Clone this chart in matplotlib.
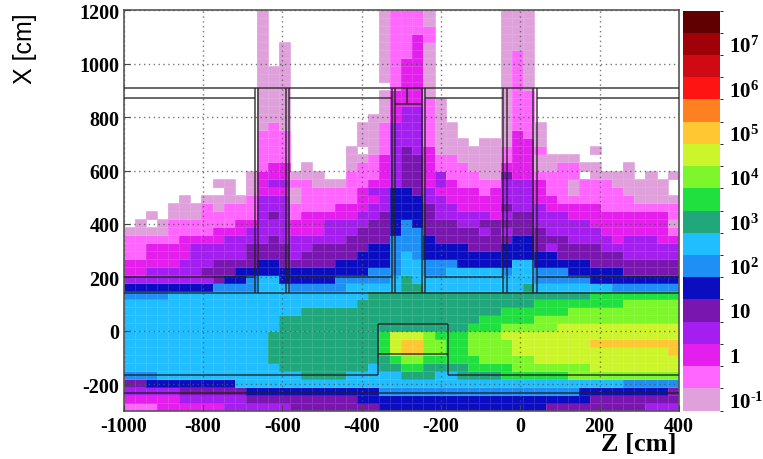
import numpy as np
import matplotlib
matplotlib.use("Agg")
import matplotlib.pyplot as plt
from matplotlib.colors import ListedColormap, BoundaryNorm

plt.rcParams['font.family'] = ['Liberation Serif', 'DejaVu Serif']
plt.rcParams['mathtext.fontset'] = 'custom'
plt.rcParams['mathtext.bf'] = 'Liberation Serif:bold'
plt.rcParams['mathtext.rm'] = 'Liberation Serif:bold'
plt.rcParams['axes.unicode_minus'] = False

# colour level of each cell, top row first: . = empty, a = lowest level ... r = highest
rows = [
    ".......... ..a....... ...abbba.. ....aaa... ..........",
    ".......... ..a....... ...abbba.. ....aaa... ..........",
    ".......... ..a....... ...abbbb.. ....aaa... ..........",
    ".......... ..a....... ...abbcb.. ....aaa... ..........",
    ".......... ..a.a..... ...abbca.. ....aaa... ..........",
    ".......... ..a.a..... ...abbca.. ....aba... ..........",
    ".......... ..a.a..... ...abcca.. ....aba... ..........",
    ".......... ..aaa..... ...abcca.. ....aba... ..........",
    ".......... ..aaa..... ...abcca.. ....aba... ..........",
    ".......... ..aaa..... ....bcca.. ....aba... ..........",
    ".......... ..aaa..... ...accca.. ....abb... ..........",
    ".......... ..aaa..... ...acccba. ....abb... ..........",
    ".......... ..aaa..... ...acddba. ....abb... ..........",
    ".......... ..aaa..... ..aacddba. ....abb... ..........",
    ".......... ..aba..... .aabdddbaa ....abba.. ..........",
    ".......... ..bbb..... .aabdddbaa ....acba.. ..........",
    ".......... ..bbb..... .aabdddbaa a.aaacca.. ..........",
    ".......... ..bbb..... a.abdedcaa aaaabccb.. ..a.......",
    ".......... ..bbb..... aabcdeecbb aaaabccaaa a.........",
    ".......... ..bcc.a... abbcdeecbb baaacccaab baa..a....",
    ".......... .acccaaa.. bbbcdeecdb bbaaeccbbb b.aaaa.a.a",
    "........aa .acddbbaaa bbccdeecdc bbbbdddcbb abbbaaaaa.",
    ".........a .acccabbbb bcddffedcc ccbcdddcbb abbbbaaaa.",
    ".....a.aaa abdddabbbb bccdfffddc ccccdddccb bbbbbbaaaa",
    "....aaabab bbdddbbbbc ccddfffedd ccccedddcc cccbbbbbbb",
    "..a.aaabbb bbdedbcccc cddefffedd dddcdeeddd cccccccccb",
    ".a.abbbbbb ccdddcccdd ddeefgfeee ddeeeeeddd ddccccccca",
    "aaaabbbbcc cddddcccdd deeefggeee eededeeedd dddccccccb",
    "bbbbbccccd dddedddddd eeeegggfee eeeeeffeee ddddcdddcc",
    "bbccccdddd deeeeddeee eeffgggfff feeefffede eeeddddddd",
    "bbccccdddd deeeedeeee efffghgfff fffffffffe eeeeeddddd",
    "cccccdddee eeffeeeeef ffffghhggg fffffhhfff ffeeeeeeee",
    "ccdddddeee ffffffffff ffggghhggh hhhhghhggg fffffeeeee",
    "ddddddddef fghhfffffg gggghihhhh hhhhhhhggg ggffffffff",
    "ffffffffgg gghhhggggg hhhhhiihhh hhhhhhihhh hhhhgggggg",
    "gggghhhhhh hhhhhhhhhh hhiiiiiiii iiiiiiiiii iijjjjjjjj",
    "hhhhhhhhhh hhhhhhhhhh hiiiiiiiii iiiiiiijjj jjjjjkkkkk",
    "hhhhhhhhhh hhhhhhiiii iiiiiiiiii iiiijjjjjj kkkkkkkkkk",
    "hhhhhhhhhh hhhhiiiiii iiiiiiiiii iijjjjjkkk kkkkkkkkkk",
    "hhhhhhhhhh hhhhiiiiii iiiiiiiiii ijjjkkkkkl llllllllll",
    "hhhhhhhhhh hhhiiiiiii iiijlllkjj jkkkllllll llllllllll",
    "hhhhhhhhhh hhhiiiiiii iiijlmmkkj jkkkklllll llmmmmmmmm",
    "hhhhhhhhhh hhhiiiiiii iiijlmmkkj jkkkklllll lllllllllm",
    "hhhhhhhhhh hhhiiiiiii iiiijkkjjj jjkkkkklll llllllllll",
    "hhhhhhhhhh hhhhiiiiii iihiijjiii ijjjjkkkkk kkllllllll",
    "ggghhhhhhh hhhhhhiiii hhhhhiiihh iiiijjjjjj kkkkkkkkkk",
    "eeffffffff hhhhhhhhhh hhhhhhhhhh hhhhhhhhhh hhhhhggggg",
    "dddddeeeee efffffffff fffggggggg gggggggggg gffffffffe",
    "cccccddddd deeeeeeeee efffffffff ffffffffff ffeeeeeeee",
    "bbbccccccd dddddeeeee eeefffffff ffffffffee eeeeeeeddd",
]
level_names = "abcdefghijklmnopqr"
level_colors = ["#DFA0DC", "#FF66FF", "#E41EEC", "#A41EF0", "#7A16B0", "#0A0EC0",
                "#1E90F5", "#20BEFF", "#20A87C", "#20E040", "#7EF62C", "#CDF52C",
                "#FFC832", "#FF8020", "#FF1414", "#D00A14", "#A00008", "#600000"]

# detector outline, cm
pillars = [-669, -662, -591, -582, -324, -316, -248, -240, -44, -34, 32, 42]
gap_starts = [-582, -240, 42]
gap_stops = [-669, -324, -44]
z_edges = np.linspace(-1000, 400, 51)
x_edges = np.linspace(-300, 1200, 51)
cbar_ticks = [0, 2, 4, 6, 8, 10, 12, 14, 16]
cbar_labels = [r"$\mathbf{10^{\text{-}1}}$", r"$\mathbf{1}$", r"$\mathbf{10}$", r"$\mathbf{10^{2}}$",
               r"$\mathbf{10^{3}}$", r"$\mathbf{10^{4}}$", r"$\mathbf{10^{5}}$",
               r"$\mathbf{10^{6}}$", r"$\mathbf{10^{7}}$"]

grid = np.array([[level_names.find(c) for c in r.replace(" ", "")] for r in rows])[::-1]
grid = np.ma.masked_less(grid, 0)
cmap = ListedColormap(level_colors)
norm = BoundaryNorm(np.arange(-0.5, 18.5), cmap.N)

W, H = 763, 460
fig = plt.figure(figsize=(W / 100, H / 100), dpi=100)
ax = fig.add_axes([123.7 / W, 1 - 411.8 / H, 555.1 / W, 400.5 / H])
mesh = ax.pcolormesh(z_edges, x_edges, grid, cmap=cmap, norm=norm,
                     edgecolors=(1, 1, 1, 0.12), linewidth=0.5)
ax.set_xlim(-1000, 400)
ax.set_ylim(-300, 1200)
ax.set_xticks(np.arange(-1000, 401, 200))
ax.set_yticks(np.arange(-200, 1201, 200))
ax.tick_params(direction="in", length=4, width=0.8, color="#444444", labelsize=14.5)
ax.tick_params(axis="x", pad=4)
ax.tick_params(axis="y", pad=3)
for lab in ax.get_xticklabels() + ax.get_yticklabels():
    lab.set_fontweight("bold")
ax.grid(True, color="#555555", ls=(0, (1, 2.5)), lw=1.0, alpha=0.8)
ax.set_axisbelow(False)
for s in ax.spines.values():
    s.set_color("#555555")
    s.set_linewidth(1.2)

# outline: horizontals first, then the three pillars
line = dict(color="#222222", lw=1.2, alpha=0.8, zorder=4)
ax.hlines([910, 140, -235], -1000, 400, **line)
for y in [870, 200]:
    ax.hlines([y] * 4, [-1000] + gap_starts, gap_stops + [400], **line)
ax.vlines(pillars, 140, 910, **line)
ax.hlines(850, -316, -248, **line)
ax.vlines(-285, 850, 910, **line)
ax.hlines(-165, -1000, -358, **line)
ax.hlines(-165, -183, 400, **line)
ax.vlines([-358, -183], -165, 25, **line)
ax.hlines([25, -88], -358, -183, **line)

cax = fig.add_axes([682.7 / W, 1 - 411.5 / H, 37.3 / W, 400 / H])
cbar = fig.colorbar(mesh, cax=cax, ticks=cbar_ticks, drawedges=False)
cbar.ax.set_yticklabels(cbar_labels, fontsize=15)
cbar.ax.tick_params(length=0, pad=6.5)
cbar.outline.set_visible(False)

fig.text(25 / W, 1 - 49 / H, "X [cm]", rotation=90, family="Liberation Sans",
         fontsize=18, ha="center", va="center")
fig.text(639 / W, 1 - 445 / H, "Z [cm]", fontweight="bold", fontsize=19,
         ha="center", va="center")
fig.savefig("out.png", dpi=100)
